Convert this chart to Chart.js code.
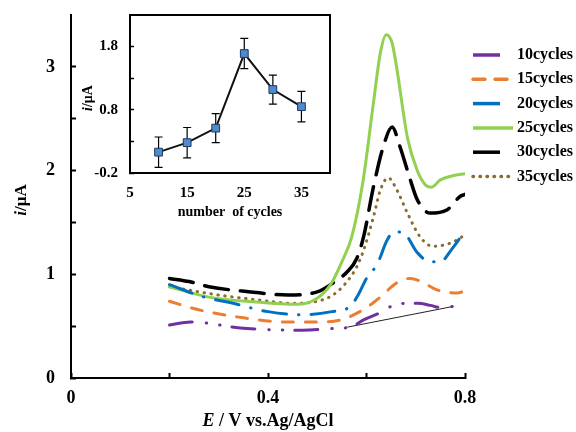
<!DOCTYPE html>
<html><head><meta charset="utf-8">
<script src="https://cdn.jsdelivr.net/npm/chart.js@4/dist/chart.umd.min.js"></script>
<style>
html,body{margin:0;padding:0;background:#fff;}
#wrap{position:relative;width:576px;height:432px;overflow:hidden;}
#main{position:absolute;left:0;top:0;}
#inset{position:absolute;left:70px;top:0;}
</style></head><body>
<div id="wrap">
<canvas id="main" width="576" height="432" style="width:576px;height:432px"></canvas>
<canvas id="inset" width="270" height="228" style="width:270px;height:228px"></canvas>
</div>
<script>
// ---------- main chart data (E / V vs Ag/AgCl, i / µA) ----------
const seriesLabels = ['10cycles','15cycles','20cycles','25cycles','30cycles','35cycles'];

const pot10 = [0.20,0.243,0.35,0.47,0.54,0.567,0.594,0.628,0.654,0.68,0.703,0.73,0.749,0.776];
const cur10 = [0.51,0.54,0.48,0.46,0.48,0.49,0.56,0.63,0.70,0.72,0.72,0.70,0.68,0.69];

const pot15 = [0.20,0.257,0.35,0.44,0.50,0.547,0.594,0.628,0.662,0.689,0.715,0.743,0.784,0.80];
const cur15 = [0.74,0.66,0.58,0.54,0.54,0.56,0.66,0.78,0.92,0.96,0.92,0.85,0.82,0.84];

const pot20 = [0.20,0.27,0.32,0.40,0.47,0.53,0.567,0.583,0.60,0.622,0.642,0.656,0.675,0.703,0.729,0.749,0.776,0.80];
const cur20 = [0.90,0.78,0.73,0.64,0.61,0.64,0.69,0.80,0.96,1.10,1.33,1.41,1.40,1.21,1.12,1.12,1.26,1.42];

const pot25 = [0.20,0.28,0.385,0.46,0.50,0.527,0.55,0.57,0.593,0.614,0.628,0.640,0.652,0.662,0.683,0.703,0.72,0.732,0.75,0.775,0.80];
const cur25 = [0.88,0.78,0.73,0.71,0.77,0.90,1.12,1.36,1.90,2.65,3.13,3.31,3.23,2.97,2.32,2.00,1.86,1.84,1.91,1.95,1.97];

const pot30 = [0.20,0.24,0.28,0.365,0.44,0.50,0.533,0.56,0.58,0.594,0.614,0.634,0.652,0.668,0.689,0.703,0.729,0.763,0.79,0.80];
const cur30 = [0.96,0.93,0.88,0.83,0.80,0.83,0.92,1.02,1.15,1.36,1.84,2.23,2.42,2.23,1.91,1.72,1.59,1.62,1.75,1.77];

const pot35 = [0.20,0.30,0.385,0.45,0.52,0.545,0.567,0.58,0.594,0.614,0.628,0.644,0.662,0.683,0.709,0.735,0.77,0.79,0.80];
const cur35 = [0.88,0.80,0.75,0.72,0.77,0.85,0.97,1.07,1.23,1.55,1.81,1.93,1.81,1.59,1.36,1.27,1.30,1.35,1.38];

const basePot = [0.561,0.776];
const baseCur = [0.49,0.69];

const xTickValues = [0,0.2,0.4,0.6,0.8];
const xTickLabels = ['0','','0.4','','0.8'];
const yTickValues = [0,0.5,1,1.5,2,2.5,3];
const yTickLabels = ['0','','1','','2','','3'];

// ---------- inset data ----------
const cycles = [10,15,20,25,30,35];
const peakCurrent = [0.13,0.28,0.51,1.69,1.12,0.85];
const peakError = [0.24,0.24,0.23,0.24,0.23,0.24];
const insetXTicks = [5,15,25,35];
const insetYTicks = [-0.2,0.3,0.8,1.3,1.8];
const insetYLabels = ['-0.2','','0.8','','1.8'];

const FONT = '"Liberation Serif", "Times New Roman", serif';
const zip = (xs, ys) => xs.map((x, i) => ({x, y: ys[i]}));
const noPad = s => { s.paddingTop = 0; s.paddingBottom = 0; s.paddingLeft = 0; s.paddingRight = 0; };

const styles = [
  {color:'#7030A0', dash:[23,14,0.5,13,0.5,12], width:3, legendDash:[], legendLen:27},
  {color:'#ED7D31', dash:[11,12], width:3, legendDash:[12,10], legendLen:35},
  {color:'#0070C0', dash:[24,12,0.5,12], width:3, legendDash:[], legendLen:27},
  {color:'#92D050', dash:[], width:3, legendDash:[], legendLen:40},
  {color:'#000000', dash:[24,12], width:3.5, legendDash:[], legendLen:27},
  {color:'#8B6B2E', dash:[0.5,6.5], width:3, legendDash:[0.5,6.5], legendLen:37}
];
const pots = [pot10,pot15,pot20,pot25,pot30,pot35];
const curs = [cur10,cur15,cur20,cur25,cur30,cur35];

const datasets = seriesLabels.map((lab, i) => ({
  label: lab,
  data: zip(pots[i], curs[i]),
  showLine: true,
  borderColor: styles[i].color,
  borderWidth: styles[i].width,
  borderDash: styles[i].dash,
  borderCapStyle: 'round',
  borderJoinStyle: 'round',
  cubicInterpolationMode: 'monotone',
  pointRadius: 0,
  inLegend: true,
  legendDash: styles[i].legendDash,
  legendLen: styles[i].legendLen
}));
datasets.push({
  label: 'baseline',
  data: zip(basePot, baseCur),
  showLine: true,
  borderColor: '#222',
  borderWidth: 1,
  pointRadius: 0,
  inLegend: false
});

function drawMixed(ctx, parts, cx, cy, rotate) {
  ctx.save();
  ctx.translate(cx, cy);
  if (rotate) ctx.rotate(-Math.PI / 2);
  let total = 0;
  parts.forEach(p => { ctx.font = p.font; total += ctx.measureText(p.text).width; });
  let x = -total / 2;
  ctx.textBaseline = 'middle';
  ctx.textAlign = 'left';
  ctx.fillStyle = '#000';
  parts.forEach(p => { ctx.font = p.font; ctx.fillText(p.text, x, 0); x += ctx.measureText(p.text).width; });
  ctx.restore();
}

const mainDecor = {
  id: 'mainDecor',
  afterDraw(chart) {
    const ctx = chart.ctx;
    ctx.save();
    chart.data.datasets.filter(d => d.inLegend).forEach((d, i) => {
      const y = 55 + i * 24.3;
      ctx.strokeStyle = d.borderColor;
      ctx.lineWidth = 3.5;
      ctx.lineCap = d.legendDash.length ? 'round' : 'butt';
      ctx.setLineDash(d.legendDash);
      ctx.beginPath(); ctx.moveTo(473, y); ctx.lineTo(473 + d.legendLen, y); ctx.stroke();
      ctx.setLineDash([]);
      ctx.fillStyle = '#000';
      ctx.font = 'bold 16px ' + FONT;
      ctx.textBaseline = 'middle';
      ctx.textAlign = 'left';
      ctx.fillText(d.label, 517, y);
    });
    ctx.restore();
    drawMixed(ctx, [{text:'E', font:'italic bold 18px ' + FONT}, {text:' / V vs.Ag/AgCl', font:'bold 18px ' + FONT}], 268, 421, false);
    drawMixed(ctx, [{text:'i', font:'italic bold 17px ' + FONT}, {text:'/μA', font:'bold 17px ' + FONT}], 22, 200, true);
  }
};

new Chart(document.getElementById('main'), {
  type: 'scatter',
  data: { datasets },
  options: {
    responsive: false,
    animation: false,
    layout: { padding: { top: 15, right: 111, left: 0, bottom: 0 } },
    plugins: { legend: { display: false }, tooltip: { enabled: false } },
    scales: {
      x: {
        type: 'linear', min: 0, max: 0.8,
        afterBuildTicks: s => { s.ticks = xTickValues.map(v => ({ value: v })); },
        afterFit: s => { s.height = 54; noPad(s); },
        ticks: {
          autoSkip: false, maxRotation: 0, padding: 15, color: '#000',
          font: { family: FONT, size: 18, weight: 'bold' },
          callback: (v) => { const k = xTickValues.indexOf(v); return k >= 0 ? xTickLabels[k] : ''; }
        },
        grid: { drawOnChartArea: false, tickLength: -5, tickWidth: 2, tickColor: '#000' },
        border: { color: '#000', width: 2 }
      },
      y: {
        type: 'linear', min: 0, max: 3.5,
        afterBuildTicks: s => { s.ticks = yTickValues.map(v => ({ value: v })); },
        afterFit: s => { s.width = 71; noPad(s); },
        ticks: {
          autoSkip: false, padding: 21, color: '#000',
          font: { family: FONT, size: 18, weight: 'bold' },
          callback: (v) => { const k = yTickValues.indexOf(v); return k >= 0 ? yTickLabels[k] : ''; }
        },
        grid: { drawOnChartArea: false, tickLength: -5, tickWidth: 2, tickColor: '#000' },
        border: { color: '#000', width: 2 }
      }
    }
  },
  plugins: [mainDecor]
});

// ---------- inset ----------
const insetDecor = {
  id: 'insetDecor',
  beforeDatasetsDraw(chart) {
    const ctx = chart.ctx, xs = chart.scales.x, ys = chart.scales.y;
    ctx.save();
    ctx.strokeStyle = '#000';
    ctx.lineWidth = 1.2;
    cycles.forEach((c, i) => {
      const px = xs.getPixelForValue(c);
      const top = ys.getPixelForValue(peakCurrent[i] + peakError[i]);
      const bot = ys.getPixelForValue(peakCurrent[i] - peakError[i]);
      ctx.beginPath();
      ctx.moveTo(px, top); ctx.lineTo(px, bot);
      ctx.moveTo(px - 4, top); ctx.lineTo(px + 4, top);
      ctx.moveTo(px - 4, bot); ctx.lineTo(px + 4, bot);
      ctx.stroke();
    });
    ctx.restore();
  },
  afterDraw(chart) {
    const ctx = chart.ctx, a = chart.chartArea;
    ctx.save();
    ctx.strokeStyle = '#000';
    ctx.lineWidth = 2;
    ctx.strokeRect(a.left, a.top, a.right - a.left, a.bottom - a.top);
    ctx.restore();
    drawMixed(ctx, [{text:'number  of cycles', font:'bold 14px ' + FONT}], 160, 212, false);
    drawMixed(ctx, [{text:'i', font:'italic bold 14px ' + FONT}, {text:'/μA', font:'bold 14px ' + FONT}], 18, 98, true);
  }
};

new Chart(document.getElementById('inset'), {
  type: 'scatter',
  data: {
    datasets: [{
      label: 'peak current',
      data: zip(cycles, peakCurrent),
      showLine: true,
      borderColor: '#111',
      borderWidth: 2,
      pointStyle: 'rect',
      pointRadius: 5.5,
      pointBackgroundColor: '#4F8BCB',
      pointBorderColor: '#1F3864',
      pointBorderWidth: 1
    }]
  },
  options: {
    responsive: false,
    animation: false,
    layout: { padding: { top: 15, right: 10, left: 0, bottom: 0 } },
    plugins: { legend: { display: false }, tooltip: { enabled: false } },
    scales: {
      x: {
        type: 'linear', min: 5, max: 40,
        afterBuildTicks: s => { s.ticks = insetXTicks.map(v => ({ value: v })); },
        afterFit: s => { s.height = 55; noPad(s); },
        ticks: { autoSkip: false, maxRotation: 0, padding: 11, color: '#000', font: { family: FONT, size: 15, weight: 'bold' } },
        grid: { drawOnChartArea: false, drawTicks: false },
        border: { color: '#000', width: 2 }
      },
      y: {
        type: 'linear', min: -0.2, max: 2.3,
        afterBuildTicks: s => { s.ticks = insetYTicks.map(v => ({ value: v })); },
        afterFit: s => { s.width = 60; noPad(s); },
        ticks: {
          autoSkip: false, padding: 16, color: '#000',
          font: { family: FONT, size: 15, weight: 'bold' },
          callback: (v) => { const k = insetYTicks.indexOf(v); return k >= 0 ? insetYLabels[k] : ''; }
        },
        grid: { drawOnChartArea: false, tickLength: -4, tickWidth: 1.5, tickColor: '#000' },
        border: { color: '#000', width: 2 }
      }
    }
  },
  plugins: [insetDecor]
});
</script>
</body></html>
